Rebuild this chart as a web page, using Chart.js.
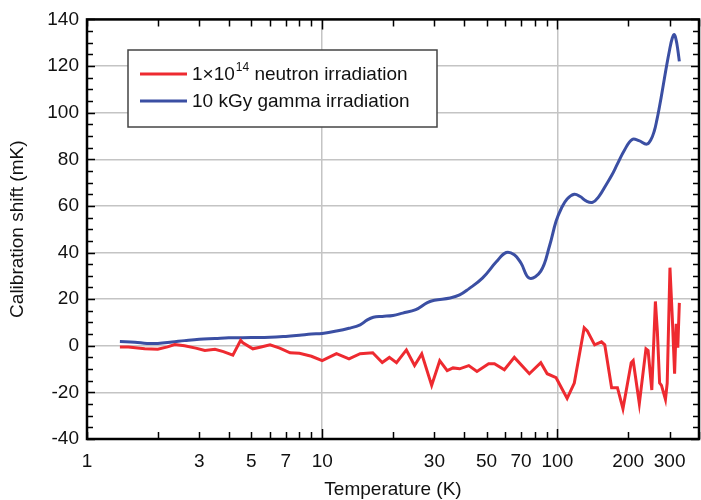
<html>
<head>
<script src="https://cdn.jsdelivr.net/npm/chart.js@4.4.0/dist/chart.umd.min.js"></script>
<style>
  body { margin: 0; background: #fff; }
  #wrap { width: 701px; height: 500px; position: relative; }
</style>
</head>
<body>
<div id="wrap"><canvas id="chart"></canvas></div>
<script>
// temperature (K) / calibration shift (mK)
var gammaT = [1.38, 1.6, 1.8, 2.0, 2.3, 2.6, 3.0, 3.5, 4.0, 5.0, 6.0, 7.0, 8.0, 9.0, 10, 11.5, 13, 14.5, 15.5, 16.5,
  18, 20, 22, 25, 28, 30, 35, 38.4, 42, 48, 55, 60.6, 65.6, 70, 76, 85, 92.5, 98.7, 104, 110,
  118, 125, 133, 141, 150, 161, 170, 180, 193, 208, 222, 240, 250, 258, 265, 271, 280, 290, 300, 308,
  314, 320, 325, 330];
var gammaShift = [1.8, 1.5, 1.0, 1.0, 1.6, 2.2, 2.8, 3.1, 3.4, 3.5, 3.6, 4.0, 4.5, 5.0, 5.3, 6.3, 7.5, 9, 11, 12.2,
  12.6, 13, 14, 15.5, 18.5, 19.5, 20.5, 21.8, 24.4, 29, 36, 40, 39, 35.5, 29, 32, 42.7, 53.4, 59, 63,
  65, 64, 62, 61.5, 64, 69, 73, 78, 84, 88.5, 88, 86.5, 88.5, 92, 97, 102, 110, 119, 127, 132,
  133.5, 131, 127, 122];

var neutronT = [1.38, 1.5, 1.76, 2.0, 2.2, 2.36, 2.6, 2.9, 3.17, 3.5, 3.8, 4.17, 4.5, 4.6, 5.07, 5.5, 6.0, 6.6, 7.3, 8.0,
  9.0, 10, 11.5, 13, 14.5, 16.4, 18, 19.3, 20.7, 22.8, 24.7, 26.5, 29.2, 31.6, 34, 36, 38.4, 42, 45.5, 51,
  54, 59.5, 65.6, 76, 85, 90.5, 98.7, 110, 118, 130, 134, 144, 154, 159, 170, 180, 190, 206, 210, 223,
  238, 243, 252, 261, 266, 272, 277, 288, 293, 301, 308, 315, 320, 325, 330];
var neutronShift = [-0.5, -0.5, -1.3, -1.5, -0.5, 0.5, 0, -1, -2, -1.5, -2.5, -4, 2.3, 1.3, -1.3, -0.5, 0.4, -1, -3, -3.2,
  -4.5, -6.4, -3.4, -5.6, -3.4, -3, -7.2, -5, -7.3, -1.8, -8.5, -3.5, -17, -6.4, -10.7, -9.5, -9.9, -8.5, -11, -7.7,
  -7.7, -10.3, -5, -12, -7.3, -12, -13.7, -22.6, -16, 7.7, 6.4, 0.4, 1.7, 0.4, -18, -18, -27, -7.3, -6.4, -24.8,
  -1.3, -2, -19, 19, 6.4, -16, -17, -23, -16, 33.5, 12, -12, 9.4, -0.8, 18.4];

var xTickVals = [1, 2, 3, 4, 5, 6, 7, 8, 9, 10, 20, 30, 40, 50, 60, 70, 80, 90, 100, 200, 300, 400];
var xLabelVals = [1, 3, 5, 7, 10, 30, 50, 70, 100, 200, 300];
var xGridVals = [10, 100];

var RED = '#ee2a30';
var BLUE = '#3b4fa3';
var FONT = "'Liberation Sans Narrow', 'Liberation Sans', sans-serif";

function pts(xs, ys) {
  return xs.map(function(v, i) { return { x: v, y: ys[i] }; });
}

var framePlugin = {
  id: 'frame',
  afterDatasetsDraw: function(chart) {
    var ctx = chart.ctx, a = chart.chartArea, xs = chart.scales.x, ys = chart.scales.y;
    ctx.save();
    ctx.strokeStyle = '#000';
    ctx.lineWidth = 1.5;
    // inward ticks, bottom and top
    xTickVals.forEach(function(v) {
      var px = Math.round(xs.getPixelForValue(v)) + 0.5;
      var len = (v === 10 || v === 100) ? 10 : 7;
      ctx.beginPath();
      ctx.moveTo(px, a.bottom); ctx.lineTo(px, a.bottom - len);
      ctx.moveTo(px, a.top); ctx.lineTo(px, a.top + len);
      ctx.stroke();
    });
    // inward ticks, left and right, every 5
    for (var v = -40; v <= 140; v += 5) {
      var py = Math.round(ys.getPixelForValue(v)) + 0.5;
      var len = (v % 20 === 0) ? 8 : 6;
      ctx.beginPath();
      ctx.moveTo(a.left, py); ctx.lineTo(a.left + len, py);
      ctx.moveTo(a.right, py); ctx.lineTo(a.right - len, py);
      ctx.stroke();
    }
    ctx.lineWidth = 2.5;
    ctx.strokeRect(a.left, a.top, a.right - a.left, a.bottom - a.top);

    // legend box
    var bx = 128, by = 50, bw = 309, bh = 77;
    ctx.fillStyle = '#fff';
    ctx.fillRect(bx, by, bw, bh);
    ctx.lineWidth = 1.5;
    ctx.strokeStyle = '#444';
    ctx.strokeRect(bx, by, bw, bh);

    ctx.lineWidth = 3;
    ctx.strokeStyle = RED;
    ctx.beginPath(); ctx.moveTo(140, 74); ctx.lineTo(187, 74); ctx.stroke();
    ctx.strokeStyle = BLUE;
    ctx.beginPath(); ctx.moveTo(140, 101); ctx.lineTo(187, 101); ctx.stroke();

    ctx.fillStyle = '#111';
    ctx.textBaseline = 'middle';
    ctx.textAlign = 'left';
    ctx.font = '19px ' + FONT;
    var tx = 192;
    ctx.fillText('1\u00d710', tx, 75);
    tx += ctx.measureText('1\u00d710').width + 1;
    ctx.font = '12px ' + FONT;
    ctx.fillText('14', tx, 68);
    tx += ctx.measureText('14').width;
    ctx.font = '19px ' + FONT;
    ctx.fillText(' neutron irradiation', tx, 75);
    ctx.fillText('10 kGy gamma irradiation', 192, 102);
    ctx.restore();
  }
};

new Chart(document.getElementById('chart'), {
  type: 'line',
  data: {
    datasets: [
      { label: 'neutron', data: pts(neutronT, neutronShift), borderColor: RED, borderWidth: 3,
        pointRadius: 0, tension: 0, fill: false },
      { label: 'gamma', data: pts(gammaT, gammaShift), borderColor: BLUE, borderWidth: 3,
        pointRadius: 0, tension: 0.4, fill: false }
    ]
  },
  options: {
    responsive: true,
    maintainAspectRatio: false,
    animation: false,
    events: [],
    layout: { padding: { top: 18, right: 2, left: 0, bottom: 0 } },
    plugins: { legend: { display: false }, tooltip: { enabled: false } },
    scales: {
      x: {
        type: 'logarithmic',
        min: 1, max: 400,
        afterBuildTicks: function(s) { s.ticks = xTickVals.map(function(v) { return { value: v }; }); },
        afterFit: function(s) { s.height = 61; s.paddingRight = 0; s.paddingLeft = 0; },
        ticks: {
          autoSkip: false, maxRotation: 0, padding: 11, color: '#111',
          font: { family: FONT, size: 19 },
          callback: function(v) { return xLabelVals.indexOf(v) >= 0 ? String(v) : ''; }
        },
        grid: {
          drawTicks: false, lineWidth: 1.5,
          color: function(c) { return xGridVals.indexOf(c.tick.value) >= 0 ? '#c4c4c4' : 'rgba(0,0,0,0)'; }
        },
        border: { display: false },
        title: { display: true, text: 'Temperature (K)', color: '#111', font: { family: FONT, size: 19 }, padding: { top: 0, bottom: -1 } }
      },
      y: {
        min: -40, max: 140,
        afterFit: function(s) { s.width = 87; },
        ticks: { stepSize: 20, padding: 8, color: '#111', font: { family: FONT, size: 19 } },
        grid: { drawTicks: false, lineWidth: 1.5, color: '#c4c4c4' },
        border: { display: false },
        title: { display: true, text: 'Calibration shift (mK)', color: '#111', font: { family: FONT, size: 19 }, padding: { top: 6, bottom: 0 } }
      }
    }
  },
  plugins: [framePlugin]
});
</script>
</body>
</html>
